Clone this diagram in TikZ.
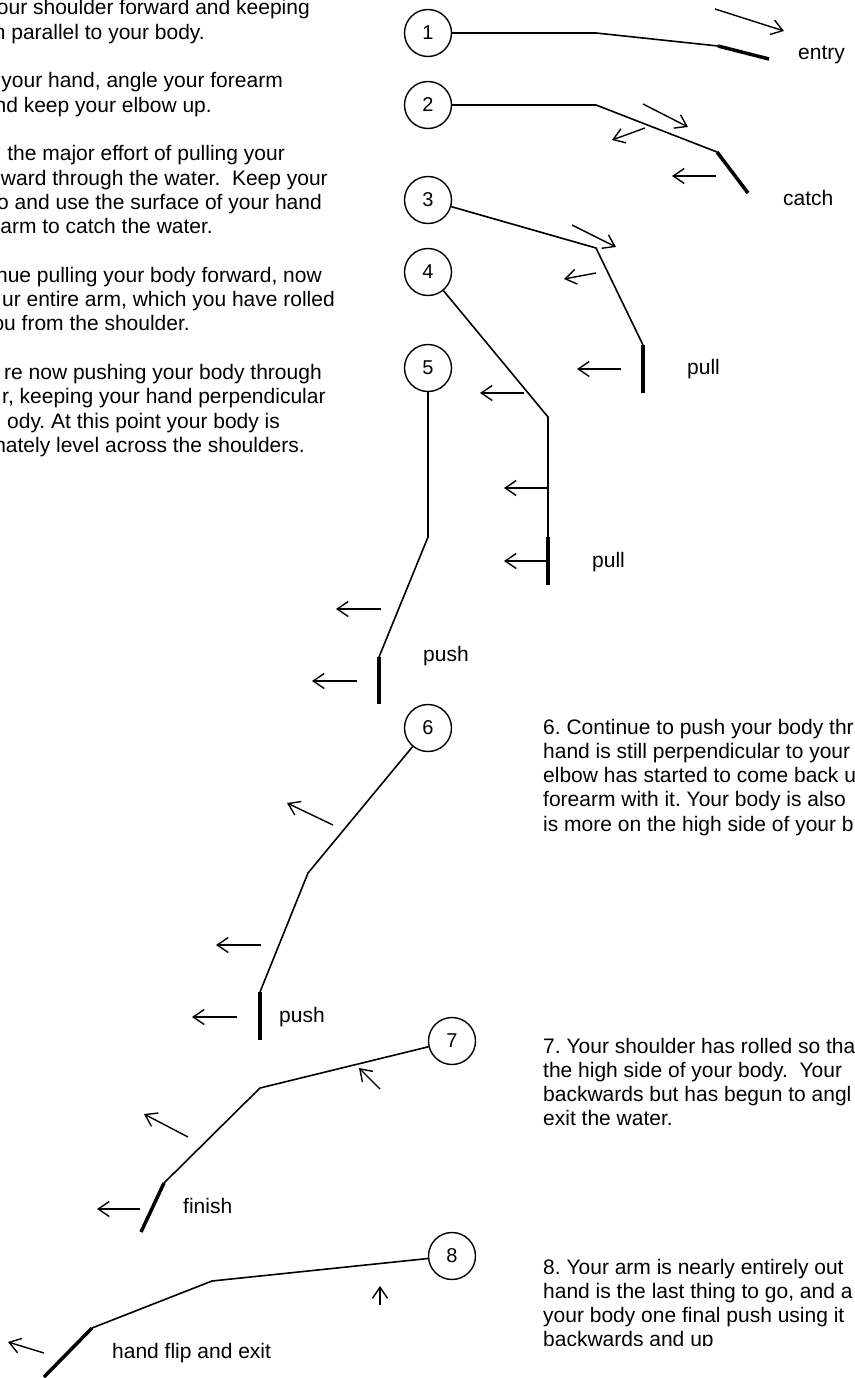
\documentclass[tikz,border=0pt]{standalone}
\usepackage{fontspec}
\setmainfont{Liberation Sans}
\usetikzlibrary{arrows.meta}
\frenchspacing
\begin{document}
\begin{tikzpicture}[x=1pt,y=-1pt,
  arm/.style={line width=1.6pt, line join=miter},
  hand/.style={line width=3.5pt},
  pusharrow/.style={line width=1.4pt, -{Straight Barb[length=11pt,width=15pt,line width=1.4pt]}},
  num/.style={circle, draw, line width=1.4pt, minimum size=47pt, inner sep=0pt, font=\fontsize{20}{24}\selectfont},
  txt/.style={inner sep=0pt, font=\fontsize{21}{24.3}\selectfont},
  lt/.style={txt, anchor=base east},
  ltw/.style={txt, anchor=base west},
  rt/.style={txt, anchor=base west},
]
\useasboundingbox (0,0) rectangle (854,1378);

% ---------- left text block (clipped by page edge)
\node[lt] (t0)  at (310,15)    {our shoulder forward and keeping};
\node[lt] (t1)  at (205,39.3)  {n parallel to your body.};
\node[lt] (t3)  at (283,87.9)  {your hand, angle your forearm};
\node[lt] (t4)  at (212,112.2) {nd keep your elbow up.};
\node[lt] (t6)  at (285,160.8) {the major effort of pulling your};
\node[lt] (t7)  at (328,185.1) {ward through the water.\ \ Keep your};
\node[lt] (t8)  at (322,209.4) {o and use the surface of your hand};
\node[lt] (t9)  at (213,233.7) {arm to catch the water.};
\node[lt] (t11) at (322,282.3) {nue pulling your body forward, now};
\node[lt] (t12) at (335,306.6) {ur entire arm, which you have rolled};
\node[lt] (t13) at (190,330.9) {ou from the shoulder.};
\node[ltw] (t15) at (4,379.5)  {re now pushing your body through};
\node[ltw] (t16) at (2,403.8)  {r, keeping your hand perpendicular};
\node[ltw] (t17) at (7,428.1)  {ody. At this point your body is};
\node[lt] (t18) at (305,452.4) {nately level across the shoulders.};

% ---------- right text blocks
\node[rt] (s61) at (543,734)   {6. Continue to push your body thr};
\node[rt] (s62) at (543,758.3) {hand is still perpendicular to your};
\node[rt] (s63) at (543,782.6) {elbow has started to come back u};
\node[rt] (s64) at (543,806.9) {forearm with it. Your body is also};
\node[rt] (s65) at (543,831.2) {is more on the high side of your b};

\node[rt] (s71) at (543,1053)   {7. Your shoulder has rolled so tha};
\node[rt] (s72) at (543,1077.3) {the high side of your body.\ \ Your};
\node[rt] (s73) at (543,1101.6) {backwards but has begun to angl};
\node[rt] (s74) at (543,1125.9) {exit the water.};

\begin{scope}
\clip (530,1240) rectangle (854,1345);
\node[rt] (s81) at (543,1274)   {8. Your arm is nearly entirely out};
\node[rt] (s82) at (543,1298.3) {hand is the last thing to go, and a};
\node[rt] (s83) at (543,1322.6) {your body one final push using it};
\node[rt] (s84) at (543,1346.9) {backwards and up};
\end{scope}

% ---------- figure 1: entry
\node[num] (n1) at (428,33) {1};
\coordinate (a1) at (596,33);
\coordinate (b1) at (718,46);
\coordinate (h1) at (769,59);
\draw[arm] (n1) -- (a1) -- (b1);
\draw[hand] (b1) -- (h1);
\coordinate (p1s) at (715,9);   \coordinate (p1e) at (784,31);
\draw[pusharrow] (p1s) -- (p1e);
\node[rt] (l1) at (798,59.5) {entry};

% ---------- figure 2: catch
\node[num] (n2) at (428,105) {2};
\coordinate (a2) at (596,105);
\coordinate (b2) at (717,152);
\coordinate (h2) at (748,193);
\draw[arm] (n2) -- (a2) -- (b2);
\draw[hand] (b2) -- (h2);
\coordinate (p2as) at (643,104); \coordinate (p2ae) at (688,127);
\coordinate (p2bs) at (645,128); \coordinate (p2be) at (612,140);
\coordinate (p2cs) at (716,176); \coordinate (p2ce) at (672,176);
\draw[pusharrow] (p2as) -- (p2ae);
\draw[pusharrow] (p2bs) -- (p2be);
\draw[pusharrow] (p2cs) -- (p2ce);
\node[rt] (l2) at (783,205.5) {catch};

% ---------- figure 3: pull
\node[num] (n3) at (428,200) {3};
\coordinate (a3) at (596,248);
\coordinate (b3) at (643,345);
\coordinate (h3) at (643,393);
\draw[arm] (n3) -- (a3) -- (b3);
\draw[hand] (b3) -- (h3);
\coordinate (p3as) at (572,225); \coordinate (p3ae) at (616,247);
\coordinate (p3bs) at (596,273); \coordinate (p3be) at (564,279);
\coordinate (p3cs) at (621,369); \coordinate (p3ce) at (577,369);
\draw[pusharrow] (p3as) -- (p3ae);
\draw[pusharrow] (p3bs) -- (p3be);
\draw[pusharrow] (p3cs) -- (p3ce);
\node[rt] (l3) at (687,374) {pull};

% ---------- figure 4: pull
\node[num] (n4) at (428,272) {4};
\coordinate (a4) at (548,417);
\coordinate (b4) at (548,537);
\coordinate (h4) at (548,585);
\draw[arm] (n4) -- (a4) -- (b4);
\draw[hand] (b4) -- (h4);
\coordinate (p4as) at (524,393); \coordinate (p4ae) at (480,393);
\coordinate (p4bs) at (548,488); \coordinate (p4be) at (504,488);
\coordinate (p4cs) at (548,561); \coordinate (p4ce) at (504,561);
\draw[pusharrow] (p4as) -- (p4ae);
\draw[pusharrow] (p4bs) -- (p4be);
\draw[pusharrow] (p4cs) -- (p4ce);
\node[rt] (l4) at (592,567) {pull};

% ---------- figure 5: push
\node[num] (n5) at (428,368) {5};
\coordinate (a5) at (428,537);
\coordinate (b5) at (379,657);
\coordinate (h5) at (379,704);
\draw[arm] (n5) -- (a5) -- (b5);
\draw[hand] (b5) -- (h5);
\coordinate (p5as) at (381,609); \coordinate (p5ae) at (336,609);
\coordinate (p5bs) at (357,681); \coordinate (p5be) at (312,681);
\draw[pusharrow] (p5as) -- (p5ae);
\draw[pusharrow] (p5bs) -- (p5be);
\node[rt] (l5) at (423,661.5) {push};

% ---------- figure 6: push
\node[num] (n6) at (428,728) {6};
\coordinate (a6) at (308,873);
\coordinate (b6) at (260,992);
\coordinate (h6) at (260,1040);
\draw[arm] (n6) -- (a6) -- (b6);
\draw[hand] (b6) -- (h6);
\coordinate (p6as) at (333,825); \coordinate (p6ae) at (287,803);
\coordinate (p6bs) at (261,945); \coordinate (p6be) at (216,945);
\coordinate (p6cs) at (237,1017); \coordinate (p6ce) at (192,1017);
\draw[pusharrow] (p6as) -- (p6ae);
\draw[pusharrow] (p6bs) -- (p6be);
\draw[pusharrow] (p6cs) -- (p6ce);
\node[rt] (l6) at (279,1022) {push};

% ---------- figure 7: finish
\node[num] (n7) at (452,1041) {7};
\coordinate (a7) at (260,1088);
\coordinate (b7) at (164,1183);
\coordinate (h7) at (141,1232);
\draw[arm] (n7) -- (a7) -- (b7);
\draw[hand] (b7) -- (h7);
\coordinate (p7as) at (380,1089); \coordinate (p7ae) at (359,1068);
\coordinate (p7bs) at (188,1137); \coordinate (p7be) at (144,1114);
\coordinate (p7cs) at (140,1209); \coordinate (p7ce) at (97,1209);
\draw[pusharrow] (p7as) -- (p7ae);
\draw[pusharrow] (p7bs) -- (p7be);
\draw[pusharrow] (p7cs) -- (p7ce);
\node[rt] (l7) at (183,1213) {finish};

% ---------- figure 8: hand flip and exit
\node[num] (n8) at (452,1256) {8};
\coordinate (a8) at (212,1281);
\coordinate (b8) at (92,1328);
\coordinate (h8) at (44,1377);
\draw[arm] (n8) -- (a8) -- (b8);
\draw[hand] (b8) -- (h8);
\coordinate (p8as) at (380,1305); \coordinate (p8ae) at (380,1286);
\coordinate (p8bs) at (44,1353);  \coordinate (p8be) at (8,1342);
\draw[pusharrow] (p8as) -- (p8ae);
\draw[pusharrow] (p8bs) -- (p8be);
\node[rt] (l8) at (112,1358) {hand flip and exit};
\end{tikzpicture}
\end{document}
